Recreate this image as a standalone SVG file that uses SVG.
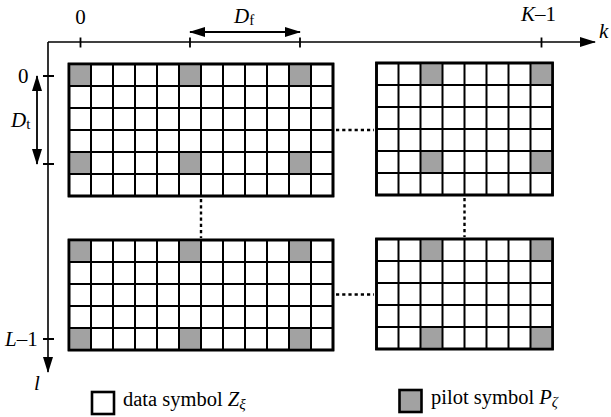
<svg xmlns="http://www.w3.org/2000/svg" width="611" height="417" viewBox="0 0 611 417">
  <style>
    .cell { fill: #ffffff; stroke: #000; stroke-width: 2.6; }
    .frame { fill: none; stroke: #000; stroke-width: 2.6; }
    .grid { fill: none; stroke: #000; stroke-width: 2; }
    .pilot { fill: #a2a2a2; }
    .axis { fill: none; stroke: #000; stroke-width: 1.6; }
    .tick { fill: none; stroke: #000; stroke-width: 1.8; }
    .dots { fill: none; stroke: #000; stroke-width: 2.4; stroke-dasharray: 3.2 3; }
    .dim { fill: none; stroke: #000; stroke-width: 1.8; }
    text { font-family: "Liberation Serif", "Times New Roman", serif; font-size: 21px; fill: #000; }
    .legend { font-size: 20.5px; }
    .it { font-style: italic; }
    .sub { font-size: 15px; }
  </style>
  <defs>
    <marker id="head" viewBox="0 0 16 10" refX="15" refY="5" markerWidth="16" markerHeight="10" markerUnits="userSpaceOnUse" orient="auto-start-reverse">
      <path d="M0,0 L16,5 L0,10 Z" fill="#000"/>
    </marker>
  </defs>

  <!-- axes: subcarrier index k (right) and symbol index l (down) -->
  <g id="axes">
    <path class="axis" d="M48,42 H595" marker-end="url(#head)"/>
    <path class="axis" d="M48,42 V372" marker-end="url(#head)"/>
    <path class="tick" d="M80.5,37.5 v10 M190,37.5 v10 M300,37.5 v10 M541.5,37.5 v10"/>
    <path class="tick" d="M43,76 h11 M43,164 h11 M43,339 h11"/>
    <text x="80.5" y="24" text-anchor="middle">0</text>
    <text x="521" y="21"><tspan class="it">K</tspan>–1</text>
    <text x="599" y="38" class="it">k</text>
    <text x="18" y="83">0</text>
    <text x="5" y="346"><tspan class="it">L</tspan>–1</text>
    <text x="34" y="390" class="it">l</text>
  </g>

  <!-- pilot spacing in frequency and time -->
  <g id="spacing-f">
    <path class="dim" d="M190,32 H300" marker-start="url(#head)" marker-end="url(#head)"/>
    <text x="234" y="23"><tspan class="it">D</tspan><tspan class="sub" dy="2">f</tspan></text>
  </g>
  <g id="spacing-t">
    <path class="dim" d="M37,76 V164" marker-start="url(#head)" marker-end="url(#head)"/>
    <text x="11" y="127"><tspan class="it">D</tspan><tspan class="sub" dy="2">t</tspan></text>
  </g>

  <!-- top-left block: 12 x 6 -->
  <g id="block-tl">
    <rect class="cell" x="69" y="64" width="264" height="132"/>
    <rect class="pilot" x="69" y="64" width="22" height="22"/>
    <rect class="pilot" x="179" y="64" width="22" height="22"/>
    <rect class="pilot" x="289" y="64" width="22" height="22"/>
    <rect class="pilot" x="69" y="152" width="22" height="22"/>
    <rect class="pilot" x="179" y="152" width="22" height="22"/>
    <rect class="pilot" x="289" y="152" width="22" height="22"/>
    <path class="grid" d="M91,64v132 M113,64v132 M135,64v132 M157,64v132 M179,64v132 M201,64v132 M223,64v132 M245,64v132 M267,64v132 M289,64v132 M311,64v132 M69,86h264 M69,108h264 M69,130h264 M69,152h264 M69,174h264"/>
    <rect class="frame" x="69" y="64" width="264" height="132"/>
  </g>

  <!-- top-right block: 8 x 6 -->
  <g id="block-tr">
    <rect class="cell" x="376.5" y="63" width="176" height="132"/>
    <rect class="pilot" x="420.5" y="63" width="22" height="22"/>
    <rect class="pilot" x="530.5" y="63" width="22" height="22"/>
    <rect class="pilot" x="420.5" y="151" width="22" height="22"/>
    <rect class="pilot" x="530.5" y="151" width="22" height="22"/>
    <path class="grid" d="M398.5,63v132 M420.5,63v132 M442.5,63v132 M464.5,63v132 M486.5,63v132 M508.5,63v132 M530.5,63v132 M376.5,85h176 M376.5,107h176 M376.5,129h176 M376.5,151h176 M376.5,173h176"/>
    <rect class="frame" x="376.5" y="63" width="176" height="132"/>
  </g>

  <!-- bottom-left block: 12 x 5 -->
  <g id="block-bl">
    <rect class="cell" x="69" y="240" width="264" height="110"/>
    <rect class="pilot" x="69" y="240" width="22" height="22"/>
    <rect class="pilot" x="179" y="240" width="22" height="22"/>
    <rect class="pilot" x="289" y="240" width="22" height="22"/>
    <rect class="pilot" x="69" y="328" width="22" height="22"/>
    <rect class="pilot" x="179" y="328" width="22" height="22"/>
    <rect class="pilot" x="289" y="328" width="22" height="22"/>
    <path class="grid" d="M91,240v110 M113,240v110 M135,240v110 M157,240v110 M179,240v110 M201,240v110 M223,240v110 M245,240v110 M267,240v110 M289,240v110 M311,240v110 M69,262h264 M69,284h264 M69,306h264 M69,328h264"/>
    <rect class="frame" x="69" y="240" width="264" height="110"/>
  </g>

  <!-- bottom-right block: 8 x 5 -->
  <g id="block-br">
    <rect class="cell" x="376.5" y="239" width="176" height="110"/>
    <rect class="pilot" x="420.5" y="239" width="22" height="22"/>
    <rect class="pilot" x="530.5" y="239" width="22" height="22"/>
    <rect class="pilot" x="420.5" y="327" width="22" height="22"/>
    <rect class="pilot" x="530.5" y="327" width="22" height="22"/>
    <path class="grid" d="M398.5,239v110 M420.5,239v110 M442.5,239v110 M464.5,239v110 M486.5,239v110 M508.5,239v110 M530.5,239v110 M376.5,261h176 M376.5,283h176 M376.5,305h176 M376.5,327h176"/>
    <rect class="frame" x="376.5" y="239" width="176" height="110"/>
  </g>

  <!-- dotted continuations between blocks -->
  <g id="connectors">
    <path class="dots" d="M336,130 H374"/>
    <path class="dots" d="M336,294.5 H374"/>
    <path class="dots" d="M201,199 V238"/>
    <path class="dots" d="M464.5,198 V237"/>
  </g>

  <!-- legend -->
  <g id="legend-data">
    <rect class="cell" x="92" y="392" width="22" height="22"/>
    <text class="legend" x="123" y="406">data symbol <tspan class="it">Z</tspan><tspan class="sub it" dy="3">ξ</tspan></text>
  </g>
  <g id="legend-pilot">
    <rect class="frame" x="399.5" y="390" width="22" height="22" style="fill:#a2a2a2"/>
    <text class="legend" x="431" y="404">pilot symbol <tspan class="it">P</tspan><tspan class="sub it" dy="3">ζ</tspan></text>
  </g>
</svg>
